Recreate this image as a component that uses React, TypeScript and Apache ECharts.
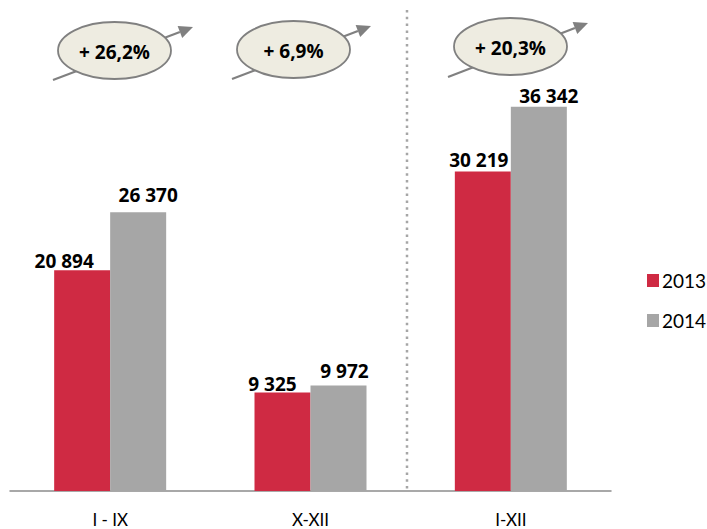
import React, { useEffect, useRef } from "react";
import * as echarts from "echarts";

// Periods and yearly totals
const periods = ["I - IX", "X-XII", "I-XII"];
const years = ["2013", "2014"];
const values2013 = [20894, 9325, 30219];
const values2014 = [26370, 9972, 36342];

// Hand-placed nudges for the value labels [dx, dy]
const labelShift2013: [number, number][] = [[-18, 0], [-10, 1], [-4, -2]];
const labelShift2014: [number, number][] = [[10, -8], [6, -5], [10, -1]];

// Growth bubbles: ellipse centre and arrow endpoints
const bubbles = [
  { cx: 114.5, cy: 50.5, from: [53, 80], to: [193, 27] },
  { cx: 293.5, cy: 49.5, from: [232, 79], to: [371, 26] },
  { cx: 510.5, cy: 46.5, from: [448, 77], to: [588, 23] },
];

const FONT = "Lato, 'Open Sans', sans-serif";
const BOLD_FONT = "'Open Sans', Lato, sans-serif";
const RED = "#CF2A43";
const GRAY = "#A6A6A6";

const fmt = (v: number) => String(v).replace(/\B(?=(\d{3})+(?!\d))/g, " ");
const growth = (a: number, b: number) =>
  "+ " + ((b / a - 1) * 100).toFixed(1).replace(".", ",") + "%";

function bubbleGraphics() {
  const out: any[] = [];
  bubbles.forEach((b, i) => {
    const [x1, y1] = b.from;
    const [x2, y2] = b.to;
    const len = Math.hypot(x2 - x1, y2 - y1);
    const ux = (x2 - x1) / len;
    const uy = (y2 - y1) / len;
    const head = 14;
    const half = 6.5;
    const bx = x2 - ux * head;
    const by = y2 - uy * head;
    out.push({
      type: "line",
      z: 10,
      shape: { x1, y1, x2: bx, y2: by },
      style: { stroke: "#808080", lineWidth: 2.2 },
    });
    out.push({
      type: "polygon",
      z: 10,
      shape: {
        points: [
          [x2, y2],
          [bx - uy * half, by + ux * half],
          [bx + uy * half, by - ux * half],
        ],
      },
      style: { fill: "#808080" },
    });
    out.push({
      type: "ellipse",
      z: 11,
      shape: { cx: b.cx, cy: b.cy, rx: 56.5, ry: 28.5 },
      style: { fill: "#EEECE1", stroke: "#808080", lineWidth: 1.8 },
    });
    out.push({
      type: "text",
      z: 12,
      x: b.cx,
      y: b.cy + 1,
      style: {
        text: growth(values2013[i], values2014[i]),
        font: `bold 19px ${BOLD_FONT}`,
        fill: "#000",
        align: "center",
        verticalAlign: "middle",
      },
    });
  });
  return out;
}

export default function App() {
  const ref = useRef<HTMLDivElement>(null);

  useEffect(() => {
    if (!ref.current) return;
    const chart = echarts.init(ref.current, undefined, { renderer: "svg" });

    const makeData = (vals: number[], shifts: [number, number][]) =>
      vals.map((v, i) => ({ value: v, label: { offset: shifts[i] } }));

    const barLabel = {
      show: true,
      position: "top",
      distance: 0,
      formatter: (p: any) => fmt(p.value),
      fontFamily: BOLD_FONT,
      fontWeight: "bold",
      fontSize: 19,
      color: "#000",
    };

    chart.setOption({
      animation: false,
      grid: { left: 10, right: 96, top: 68.2, bottom: 38 },
      legend: {
        orient: "vertical",
        left: 642,
        top: 266,
        data: years,
        icon: "rect",
        itemWidth: 12,
        itemHeight: 13,
        itemGap: 21,
        textStyle: { fontFamily: FONT, fontSize: 19, color: "#000", lineHeight: 19, padding: [0, 0, 0, -2] },
      },
      xAxis: {
        type: "category",
        data: periods,
        axisLine: { lineStyle: { color: "#8C8C8C", width: 1.5 } },
        axisTick: { show: false },
        axisLabel: { fontFamily: FONT, fontSize: 17, color: "#000", margin: 20 },
      },
      yAxis: { type: "value", min: 0, max: 40000, show: false, splitLine: { show: false } },
      series: [
        {
          name: years[0],
          type: "bar",
          barWidth: 56,
          barGap: "0%",
          itemStyle: { color: RED },
          label: barLabel,
          data: makeData(values2013, labelShift2013),
        },
        {
          name: years[1],
          type: "bar",
          barWidth: 56,
          barGap: "0%",
          itemStyle: { color: GRAY },
          label: barLabel,
          data: makeData(values2014, labelShift2014),
        },
      ],
      graphic: [
        {
          type: "line",
          shape: { x1: 407, y1: 10, x2: 407, y2: 490 },
          style: { stroke: "#A6A6A6", lineWidth: 2.5, lineDash: [2.5, 4.3] },
        },
        ...bubbleGraphics(),
      ],
    });

    return () => chart.dispose();
  }, []);

  return (
    <div
      ref={ref}
      style={{ position: "fixed", left: 0, top: 0, width: 707, height: 529, background: "#fff" }}
    />
  );
}
